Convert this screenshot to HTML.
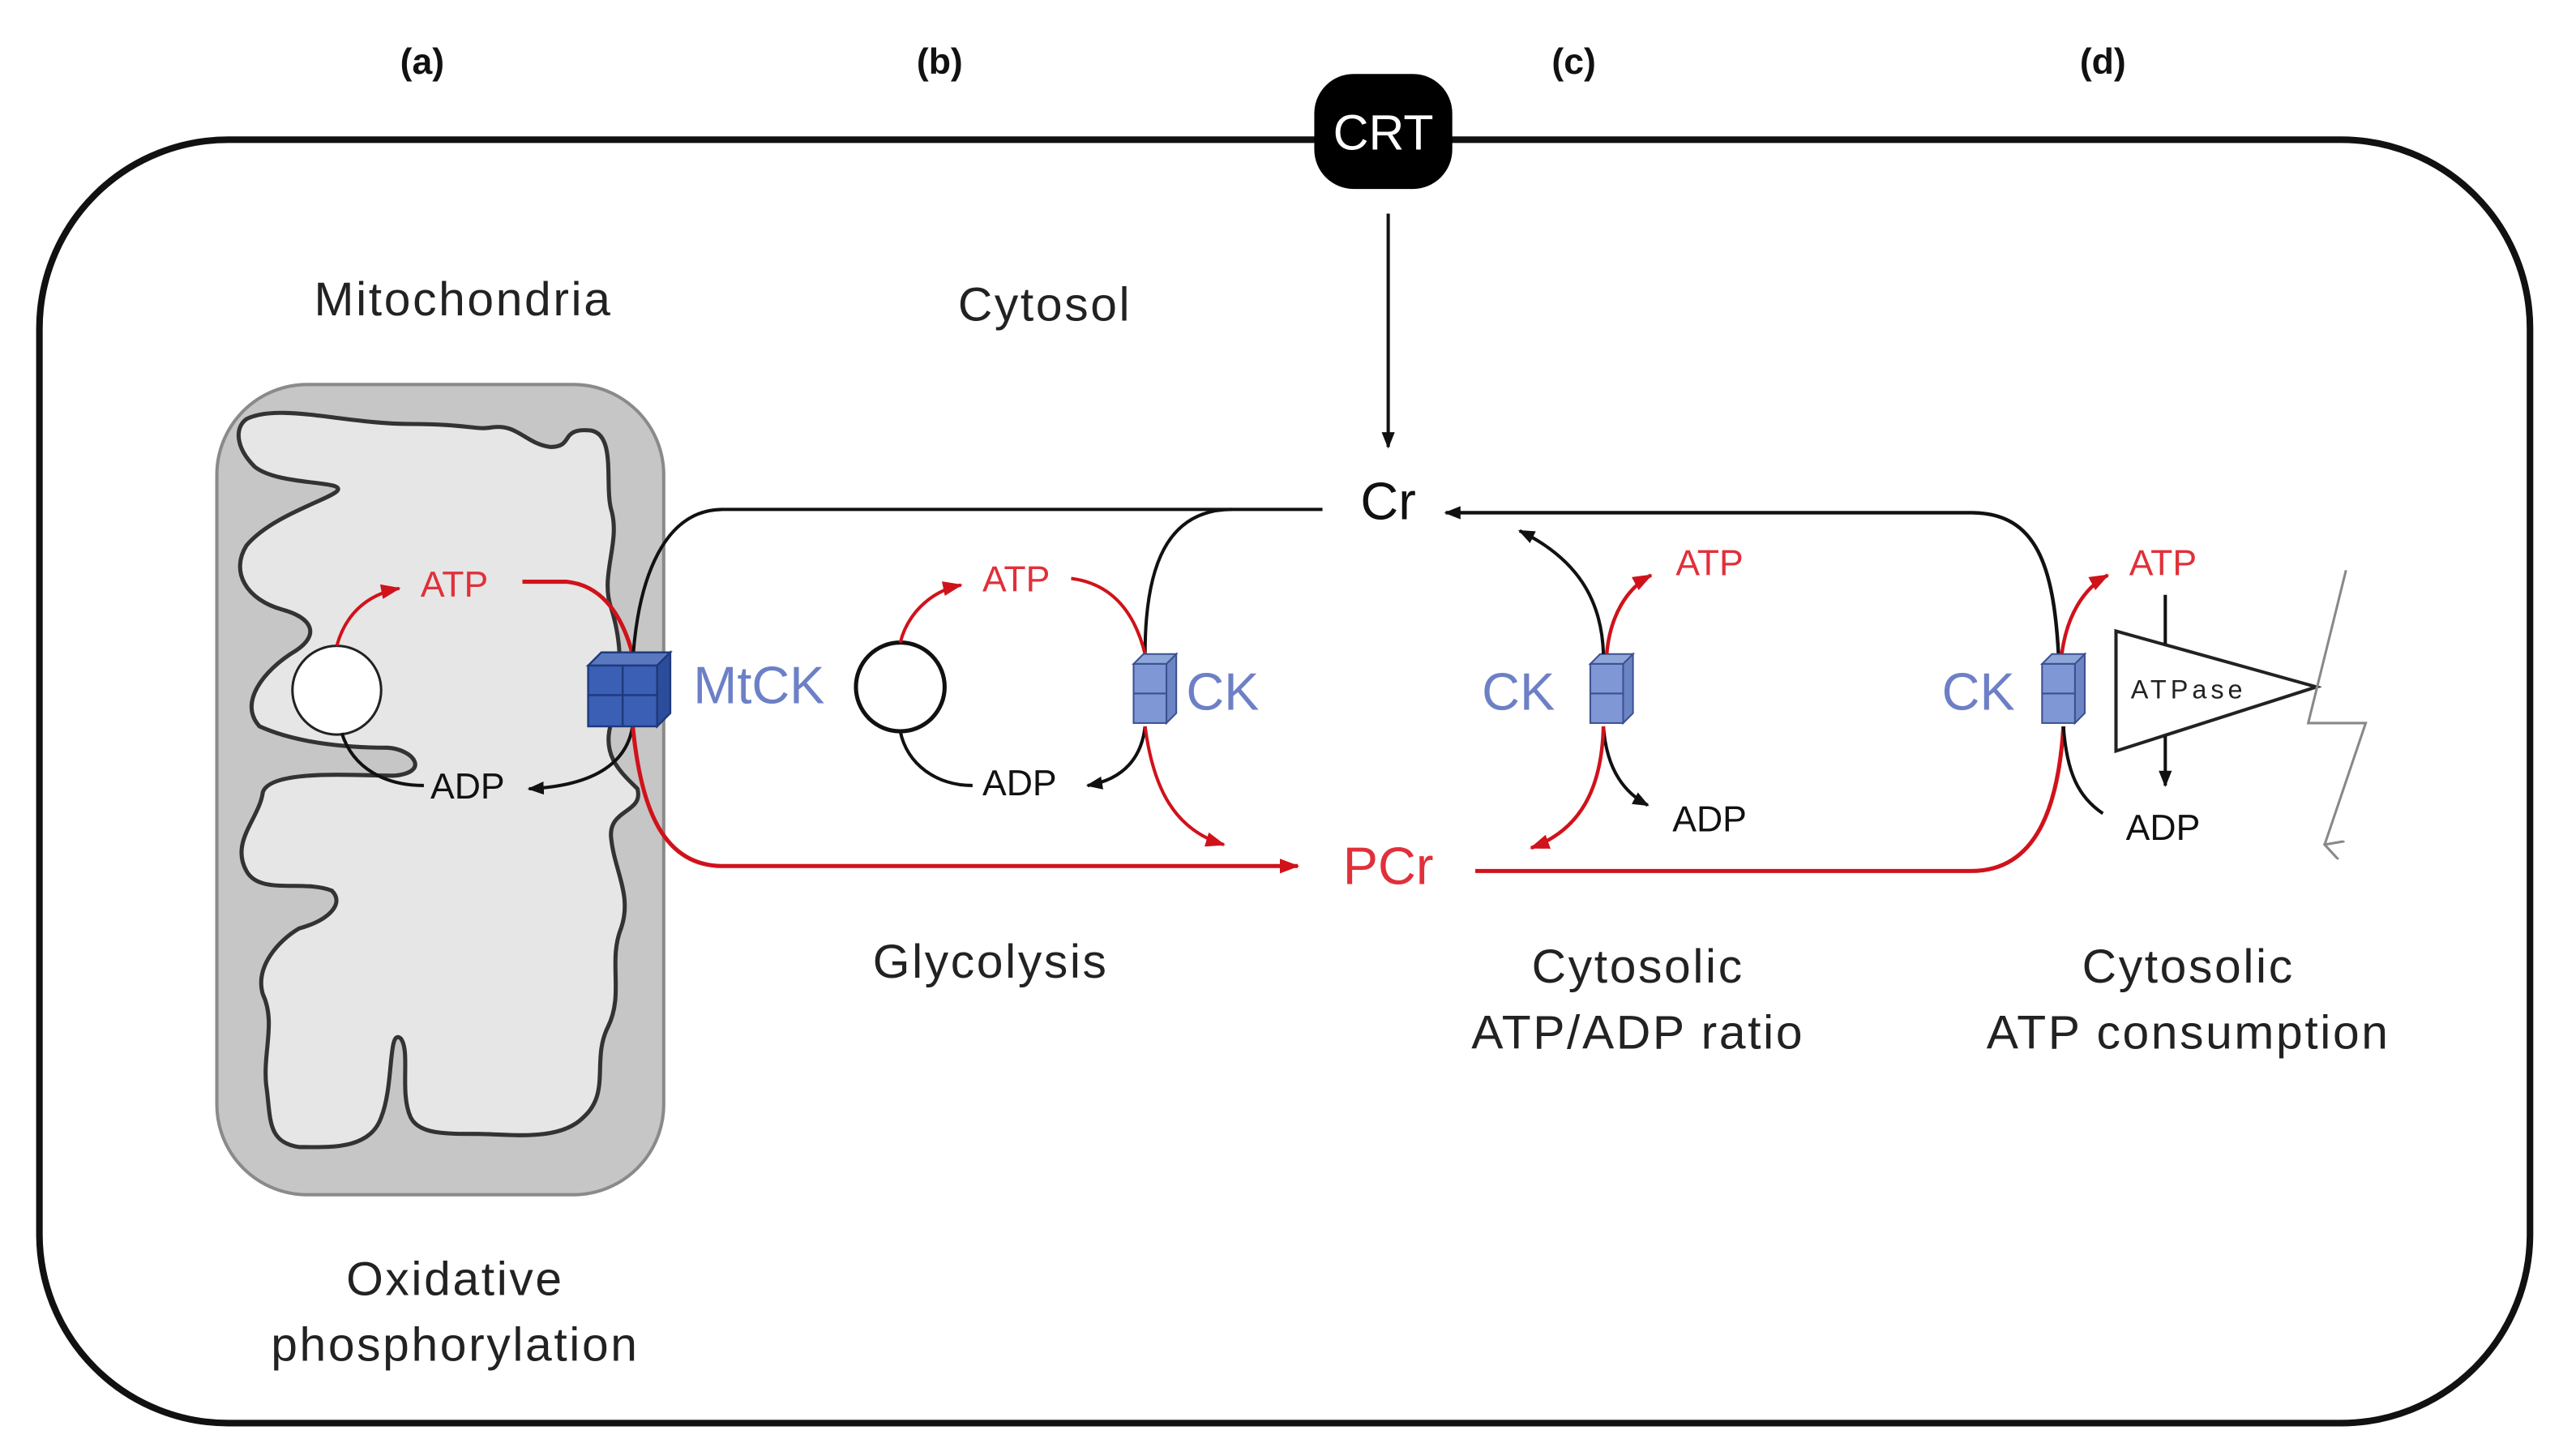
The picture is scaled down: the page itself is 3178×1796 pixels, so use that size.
<!DOCTYPE html>
<html><head><meta charset="utf-8"><style>
html,body{margin:0;padding:0;background:#fff;}
svg{display:block;}
text{font-family:"Liberation Sans",sans-serif;}
</style></head><body>
<svg width="3178" height="1796" viewBox="0 0 1568 886" preserveAspectRatio="none" xmlns="http://www.w3.org/2000/svg">
<defs>
<marker id="ak" markerWidth="10" markerHeight="8" refX="9" refY="4" orient="auto" markerUnits="userSpaceOnUse"><path d="M0,0 L10,4 L0,8 Z" fill="#111"/></marker>
<marker id="ar" markerWidth="12" markerHeight="9" refX="11" refY="4.5" orient="auto" markerUnits="userSpaceOnUse"><path d="M0,0 L12,4.5 L0,9 Z" fill="#d0121b"/></marker>
<marker id="ag" markerWidth="12" markerHeight="12" refX="6" refY="11" orient="auto" markerUnits="userSpaceOnUse"><path d="M0,0 L6,11 L12,0" fill="none" stroke="#888" stroke-width="1.5"/></marker>
</defs>
<g font-weight="bold" font-size="22" text-anchor="middle" fill="#111">
<text x="257" y="45">(a)</text><text x="572" y="45">(b)</text><text x="958" y="45">(c)</text><text x="1280" y="45">(d)</text>
</g>
<rect x="24" y="85" width="1516" height="781" rx="115" fill="none" stroke="#111" stroke-width="4"/>
<rect x="800" y="45" width="84" height="70" rx="24" fill="#000"/>
<text x="842" y="91" font-size="30" fill="#fff" text-anchor="middle">CRT</text>
<line x1="845" y1="130" x2="845" y2="272" stroke="#111" stroke-width="2" marker-end="url(#ak)"/>
<g font-size="29" text-anchor="middle" fill="#222" letter-spacing="1.3">
<text x="282" y="192">Mitochondria</text>
<text x="636" y="195">Cytosol</text>
<text x="277" y="788">Oxidative</text>
<text x="277" y="828">phosphorylation</text>
<text x="603" y="595">Glycolysis</text>
<text x="997" y="598">Cytosolic</text>
<text x="997" y="638">ATP/ADP ratio</text>
<text x="1332" y="598">Cytosolic</text>
<text x="1332" y="638">ATP consumption</text>
</g>
<rect x="132" y="234" width="272" height="493" rx="55" fill="#c6c6c6" stroke="#8a8a8a" stroke-width="2"/>
<path d="M150,255 C170,245 210,258 250,258 C285,258 290,262 300,260 C315,258 320,270 335,272 C350,272 340,260 360,262 C375,265 368,295 372,310 C378,330 365,350 372,370 C380,395 378,420 372,440 C366,460 378,470 388,480 C392,495 370,492 372,510 C374,530 385,545 378,565 C370,585 380,605 370,625 C360,645 372,665 355,680 C340,695 310,690 290,690 C270,690 255,690 250,680 C243,665 250,640 244,632 C236,625 240,660 232,680 C225,700 200,698 182,698 C162,695 165,680 162,660 C160,640 168,622 160,605 C155,588 170,572 182,565 C200,560 210,550 202,542 C185,535 158,545 150,530 C140,512 158,498 160,482 C165,468 215,472 240,472 C262,470 252,456 236,455 C210,455 180,452 158,442 C145,428 160,408 180,396 C195,386 190,376 172,371 C150,365 140,348 150,332 C165,314 200,304 205,299 C212,292 170,296 155,284 C143,272 143,260 150,255 Z" fill="#e6e6e6" stroke="#333" stroke-width="2.5"/>
<circle cx="205" cy="420" r="27" fill="#fff" stroke="#222" stroke-width="1.5"/>
<path d="M205,393 C210,375 222,362 243,358" fill="none" stroke="#d0121b" stroke-width="2" marker-end="url(#ar)"/>
<text x="256" y="363" font-size="22" fill="#e0303a">ATP</text>
<path d="M318,354 L345,354 C365,356 378,372 385,398" fill="none" stroke="#d0121b" stroke-width="2.5"/>
<text x="262" y="486" font-size="22" fill="#111">ADP</text>
<path d="M208,446 C215,468 235,478 258,478" fill="none" stroke="#111" stroke-width="2"/>
<path d="M385,442 C382,462 365,478 322,480" fill="none" stroke="#111" stroke-width="2" marker-end="url(#ak)"/>
<path d="M385,405 C388,350 405,310 440,310 L805,310" fill="none" stroke="#111" stroke-width="2"/>
<path d="M697,398 C697,345 710,310 750,310" fill="none" stroke="#111" stroke-width="2"/>
<path d="M1253,398 C1250,345 1240,312 1200,312 L880,312" fill="none" stroke="#111" stroke-width="2.2" marker-end="url(#ak)"/>
<path d="M385,440 C390,495 405,527 440,527 L790,527" fill="none" stroke="#d0121b" stroke-width="2.5" marker-end="url(#ar)"/>
<path d="M898,530 L1200,530 C1240,530 1253,490 1256,442" fill="none" stroke="#d0121b" stroke-width="2.5"/>
<text x="845" y="316" font-size="32" fill="#111" text-anchor="middle">Cr</text>
<text x="845" y="538" font-size="32" fill="#e0303a" text-anchor="middle">PCr</text>
<g stroke="#1e3a7a" stroke-width="1.2">
<path d="M358,405 L366,397 L408,397 L400,405 Z" fill="#5a78c0"/>
<path d="M400,405 L408,397 L408,434 L400,442 Z" fill="#2c4d9c"/>
<rect x="358" y="405" width="42" height="37" fill="#3b5fb5"/>
<line x1="379" y1="405" x2="379" y2="442"/><line x1="358" y1="423" x2="400" y2="423"/>
</g>
<text x="422" y="428" font-size="32" fill="#6d80c6">MtCK</text>
<circle cx="548" cy="418" r="27" fill="#fff" stroke="#111" stroke-width="2.5"/>
<path d="M548,391 C552,375 565,360 585,356" fill="none" stroke="#d0121b" stroke-width="2" marker-end="url(#ar)"/>
<text x="598" y="360" font-size="22" fill="#e0303a">ATP</text>
<path d="M652,352 C675,355 690,370 697,398" fill="none" stroke="#d0121b" stroke-width="2"/>
<text x="598" y="484" font-size="22" fill="#111">ADP</text>
<path d="M548,445 C552,465 570,478 592,478" fill="none" stroke="#111" stroke-width="2"/>
<path d="M697,442 C695,460 685,474 662,478" fill="none" stroke="#111" stroke-width="2" marker-end="url(#ak)"/>
<path d="M697,442 C702,480 715,505 745,514" fill="none" stroke="#d0121b" stroke-width="2" marker-end="url(#ar)"/>
<g stroke="#3c5090" stroke-width="1">
<path d="M690,404 L696,398 L716,398 L710,404 Z" fill="#8fa6d8"/><path d="M710,404 L716,398 L716,434 L710,440 Z" fill="#6a84c4"/><rect x="690" y="404" width="20" height="36" fill="#7f97d4"/><line x1="690" y1="422" x2="710" y2="422"/>
<path d="M968,404 L974,398 L994,398 L988,404 Z" fill="#8fa6d8"/><path d="M988,404 L994,398 L994,434 L988,440 Z" fill="#6a84c4"/><rect x="968" y="404" width="20" height="36" fill="#7f97d4"/><line x1="968" y1="422" x2="988" y2="422"/>
<path d="M1243,404 L1249,398 L1269,398 L1263,404 Z" fill="#8fa6d8"/><path d="M1263,404 L1269,398 L1269,434 L1263,440 Z" fill="#6a84c4"/><rect x="1243" y="404" width="20" height="36" fill="#7f97d4"/><line x1="1243" y1="422" x2="1263" y2="422"/>
</g>
<text x="722" y="432" font-size="32" fill="#6d80c6">CK</text>
<text x="902" y="432" font-size="32" fill="#6d80c6">CK</text>
<text x="1182" y="432" font-size="32" fill="#6d80c6">CK</text>
<path d="M976,398 C975,365 960,340 925,323" fill="none" stroke="#111" stroke-width="2" marker-end="url(#ak)"/>
<path d="M978,398 C980,375 990,358 1005,350" fill="none" stroke="#d0121b" stroke-width="2.2" marker-end="url(#ar)"/>
<text x="1020" y="350" font-size="22" fill="#e0303a">ATP</text>
<path d="M976,442 C978,470 990,483 1003,490" fill="none" stroke="#111" stroke-width="2" marker-end="url(#ak)"/>
<text x="1018" y="506" font-size="22" fill="#111">ADP</text>
<path d="M976,442 C975,480 962,505 932,516" fill="none" stroke="#d0121b" stroke-width="2.2" marker-end="url(#ar)"/>
<path d="M1255,398 C1258,375 1268,358 1283,350" fill="none" stroke="#d0121b" stroke-width="2.2" marker-end="url(#ar)"/>
<text x="1296" y="350" font-size="22" fill="#e0303a">ATP</text>
<path d="M1256,442 C1258,470 1265,485 1280,495" fill="none" stroke="#111" stroke-width="2"/>
<text x="1294" y="511" font-size="22" fill="#111">ADP</text>
<path d="M1288,384 L1410,418 L1288,457 Z" fill="#fff" stroke="#222" stroke-width="2"/>
<text x="1297" y="425" font-size="16" fill="#222" textLength="68">ATPase</text>
<line x1="1318" y1="362" x2="1318" y2="392" stroke="#111" stroke-width="2"/>
<line x1="1318" y1="448" x2="1318" y2="478" stroke="#111" stroke-width="2" marker-end="url(#ak)"/>
<polyline points="1428,347 1405,440 1440,440 1415,514" fill="none" stroke="#888" stroke-width="1.5" marker-end="url(#ag)"/>
</svg>
</body></html>
